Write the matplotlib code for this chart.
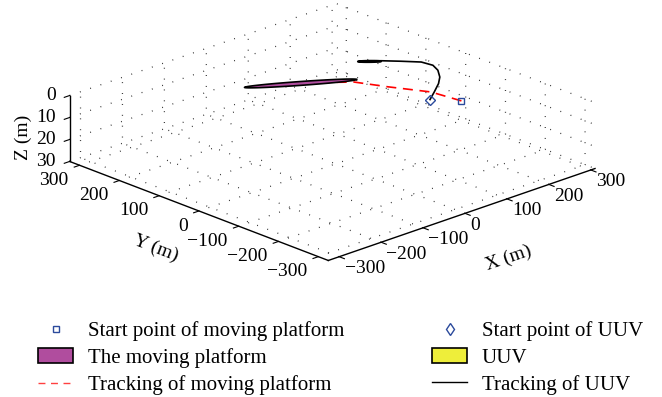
import numpy as np
import matplotlib.pyplot as plt
from matplotlib.patches import Patch
from matplotlib.lines import Line2D
from mpl_toolkits.mplot3d.art3d import Poly3DCollection

plt.rcParams['font.family'] = ['Liberation Serif', 'DejaVu Serif']
plt.rcParams['axes.unicode_minus'] = True

# positions in metres: x, y, depth (depth grows downward)
platform_start = [148, -160, 0]
uuv_start = [113, -118, 0]

platform_track_x = [148, 139, 102, 75, 6]
platform_track_y = [-160, -93, -24, 33, 93]
platform_track_z = [0, 0, 0, 0, 0]

uuv_track_x = [113, 143, 176, 199, 219, 229, 225, 202, 179, 151]
uuv_track_y = [-118, -97, -73, -52, -26, -3, 22, 49, 74, 99]
uuv_track_z = [0, 0, 0, 0, 0, 0, 0, 0, 0, 0]

# hull outlines: centre x, centre y, heading (deg), half length, half beam
platform_hull = [4.5, 94, -32.4, 99, 9]
uuv_hull = [163, 88, 138.0, 20, 3]

xlim = (-326, 310)
ylim = (-325, 325)
zlim = (30, 0)
ticks_xy = [-300, -200, -100, 0, 100, 200, 300]
ticks_z = [0, 10, 20, 30]

platform_color = '#b04d9e'
uuv_color = '#eeee3a'
marker_color = '#2b4a9c'


def hull_polygon(cx, cy, heading, a, b, depth=0.0, n=80):
    t = np.linspace(0, 2 * np.pi, n)
    h = np.deg2rad(heading)
    px = a * np.cos(t)
    py = b * np.sin(t)
    x = cx + px * np.cos(h) - py * np.sin(h)
    y = cy + px * np.sin(h) + py * np.cos(h)
    z = np.full_like(x, depth)
    return [list(zip(x, y, z))]


fig = plt.figure(figsize=(6.62, 3.97), dpi=100)
S = 515
ax = fig.add_axes([0.1025, 0.0013, S / 662, S / 397], projection='3d')
ax.set_proj_type('ortho')
ax.view_init(elev=21.3, azim=-133.5)
ax.set_box_aspect((xlim[1] - xlim[0], ylim[1] - ylim[0], 122.4))

ax.set_xlim(*xlim)
ax.set_ylim(*ylim)
ax.set_zlim(*zlim)
ax.set_xticks(ticks_xy)
ax.set_yticks(ticks_xy)
ax.set_zticks(ticks_z)

for axis in (ax.xaxis, ax.yaxis, ax.zaxis):
    axis.set_pane_color((1, 1, 1, 0))
    axis.line.set_color('black')
    axis.line.set_linewidth(1.0)
    axis._axinfo['grid'].update(color='#222222', linewidth=0.9,
                                linestyle=(0, (0.7, 8)))
    axis._axinfo['tick'].update(inward_factor=0.25, outward_factor=0.0)
    axis._axinfo['tick']['linewidth'] = {True: 0.8, False: 0.5}

ax.tick_params(axis='x', labelsize=14, pad=-4)
ax.tick_params(axis='y', labelsize=14, pad=0)
ax.tick_params(axis='z', labelsize=14, pad=-3)
plt.setp(ax.get_xticklabels(), ha='left', va='top')
plt.setp(ax.get_yticklabels(), ha='right', va='top')
plt.setp(ax.get_zticklabels(), ha='right', va='center')

# axis titles follow the slant of the floor edges
fig.text(509 / 662, 1 - 258 / 397, 'X (m)', fontsize=14, rotation=19,
         ha='center', va='center', rotation_mode='anchor')
fig.text(156 / 662, 1 - 248 / 397, 'Y (m)', fontsize=14, rotation=-21,
         ha='center', va='center', rotation_mode='anchor')
fig.text(23 / 662, 1 - 137 / 397, 'Z (m)', fontsize=14, rotation=90,
         ha='center', va='center', rotation_mode='anchor')

# moving platform and UUV hulls
ax.add_collection3d(Poly3DCollection(hull_polygon(*platform_hull),
                                     facecolor=platform_color,
                                     edgecolor='black', linewidth=1.2))
ax.add_collection3d(Poly3DCollection(hull_polygon(*uuv_hull),
                                     facecolor=uuv_color,
                                     edgecolor='black', linewidth=1.5))

ax.plot(platform_track_x, platform_track_y, platform_track_z,
        color='red', linestyle=(0, (6, 4)), linewidth=1.2)
ax.plot(uuv_track_x, uuv_track_y, uuv_track_z, color='black', linewidth=1.2)
ax.plot([platform_start[0]], [platform_start[1]], [platform_start[2]],
        marker='s', markersize=5, markerfacecolor='none',
        markeredgecolor=marker_color, markeredgewidth=1.0, linestyle='none')
ax.plot([uuv_start[0]], [uuv_start[1]], [uuv_start[2]],
        marker='D', markersize=5, markerfacecolor='none',
        markeredgecolor=marker_color, markeredgewidth=1.0, linestyle='none')

handles = [
    Line2D([], [], marker='s', markersize=5, markerfacecolor='none',
           markeredgecolor=marker_color, linestyle='none'),
    Patch(facecolor=platform_color, edgecolor='black', linewidth=1.2),
    Line2D([], [], color='#ff4040', linestyle=(0, (5, 4)), linewidth=1.0),
    Line2D([], [], marker='d', markersize=6, markerfacecolor='none',
           markeredgecolor=marker_color, linestyle='none'),
    Patch(facecolor=uuv_color, edgecolor='black', linewidth=1.2),
    Line2D([], [], color='black', linewidth=1.0),
]
labels = [
    'Start point of moving platform',
    'The moving platform',
    'Tracking of moving platform',
    'Start point of UUV',
    'UUV',
    'Tracking of UUV',
]
fig.legend(handles, labels, ncol=2, loc='upper left',
           bbox_to_anchor=(38 / 662, 1 - 321 / 397), frameon=False,
           fontsize=15, handlelength=1.7, handletextpad=0.7,
           columnspacing=4.2, labelspacing=0.34, borderpad=0,
           borderaxespad=0)

fig.savefig('out.png', dpi=100)
